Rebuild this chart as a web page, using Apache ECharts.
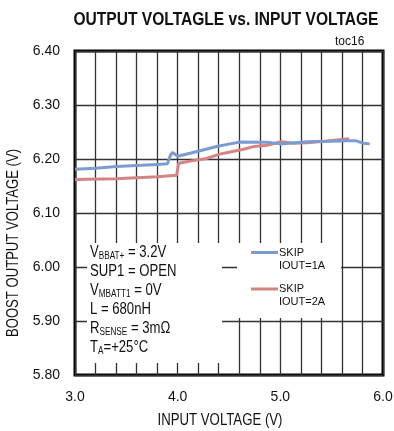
<!DOCTYPE html>
<html><head><meta charset="utf-8">
<script src="https://cdn.jsdelivr.net/npm/echarts@6/dist/echarts.min.js"></script>
<style>html,body{margin:0;padding:0;background:#fff}#c{width:394px;height:431px}</style>
</head><body><div id="c"></div>
<script>
// Data
const xTickLabels = ['3.0', '4.0', '5.0', '6.0'];
const yTickLabels = ['5.80', '5.90', '6.00', '6.10', '6.20', '6.30', '6.40'];
const seriesNames = ['SKIP\nIOUT=1A', 'SKIP\nIOUT=2A'];
const vin1A  = [3.0, 3.2, 3.4, 3.6, 3.8, 3.90, 3.93, 3.95, 4.0, 4.18, 4.38, 4.51, 4.61, 4.87, 5.0, 5.26, 5.5, 5.65, 5.73, 5.81, 5.87];
const vout1A = [6.181, 6.183, 6.186, 6.188, 6.190, 6.191, 6.207, 6.212, 6.205, 6.2135, 6.223, 6.228, 6.2315, 6.231, 6.228, 6.232, 6.233, 6.234, 6.234, 6.229, 6.228];
const vin2A  = [3.0, 3.4, 3.8, 3.99, 4.01, 4.15, 4.28, 4.41, 4.51, 4.64, 4.74, 4.87, 5.01, 5.13, 5.26, 5.45, 5.67];
const vout2A = [6.162, 6.1635, 6.167, 6.170, 6.192, 6.197, 6.201, 6.209, 6.213, 6.218, 6.223, 6.2254, 6.232, 6.229, 6.230, 6.2333, 6.2376];
const titleText = 'OUTPUT VOLTAGLE vs. INPUT VOLTAGE';
const xName = 'INPUT VOLTAGE (V)';
const yName = 'BOOST OUTPUT VOLTAGE (V)';

const REG = '"Liberation Sans", Arial, sans-serif';
const c1 = '#7b9bd2', c2 = '#d48484';
const NARROW = 0.82;

const ctx = document.createElement('canvas').getContext('2d');
function fitScale(text, font, target) { ctx.font = font; return target / ctx.measureText(text).width; }

const titleFont = 'bold 18px ' + REG;
const nameFont = '16px ' + REG;

const chart = echarts.init(document.getElementById('c'), null, {renderer: 'canvas'});
const gridCol = '#333';
chart.setOption({
  animation: false,
  backgroundColor: '#fff',
  grid: {left: 75, top: 51, width: 308, height: 324, show: true, borderColor: '#000', borderWidth: 3,
         backgroundColor: 'transparent', containLabel: false, outerBoundsMode: 'none'},
  xAxis: {
    type: 'value', min: 3, max: 6, interval: 1,
    axisLine: {show: false}, axisTick: {show: false},
    axisLabel: {margin: 15, fontFamily: REG, fontSize: 14, color: '#111',
      formatter: v => { const i = Math.round(v - 3); return xTickLabels[i] !== undefined ? xTickLabels[i] : ''; }},
    splitLine: {show: true, lineStyle: {color: gridCol, width: 1.3}},
    minorTick: {show: false, splitNumber: 5},
    minorSplitLine: {show: true, lineStyle: {color: gridCol, width: 1.3}}
  },
  yAxis: {
    type: 'value', min: 5.8, max: 6.4, interval: 0.1,
    axisLine: {show: false}, axisTick: {show: false},
    axisLabel: {margin: 15, fontFamily: REG, fontSize: 14, color: '#111',
      formatter: v => { const i = Math.round((v - 5.8) * 10); return yTickLabels[i] !== undefined ? yTickLabels[i] : ''; }},
    splitLine: {show: true, lineStyle: {color: gridCol, width: 1.3}}
  },
  series: [
    {name: seriesNames[0], type: 'line', data: vin1A.map((x, i) => [x, vout1A[i]]), symbol: 'none', lineStyle: {color: c1, width: 3}, z: 3},
    {name: seriesNames[1], type: 'line', data: vin2A.map((x, i) => [x, vout2A[i]]), symbol: 'none', lineStyle: {color: c2, width: 3}, z: 2}
  ],
  graphic: [
    {type: 'text', x: 226, y: 20, scaleX: fitScale(titleText, titleFont, 305), z: 60,
      style: {text: titleText, font: titleFont, fill: '#111', textAlign: 'center', textVerticalAlign: 'middle'}},
    {type: 'text', x: 220, y: 421, scaleX: fitScale(xName, nameFont, 125), z: 60,
      style: {text: xName, font: nameFont, fill: '#111', textAlign: 'center', textVerticalAlign: 'middle'}},
    {type: 'text', x: 14, y: 243, rotation: Math.PI / 2, scaleX: fitScale(yName, nameFont, 188), z: 60,
      style: {text: yName, font: nameFont, fill: '#111', textAlign: 'center', textVerticalAlign: 'middle'}},
    {type: 'rect', shape: {x: 87, y: 243, width: 135, height: 120}, style: {fill: '#fff'}, z: 50},
    {type: 'rect', shape: {x: 237, y: 243, width: 104, height: 75}, style: {fill: '#fff'}, z: 50},
    {type: 'text', x: 335, y: 36, z: 60, style: {text: 'toc16', font: '12px ' + REG, fill: '#111'}},
    {type: 'text', x: 90, y: 243, scaleX: NARROW, z: 60, style: {
      text: 'V{s|BBAT+} = 3.2V\nSUP1 = OPEN\nV{s|MBATT1} = 0V\nL = 680nH\nR{s|SENSE} = 3mΩ\nT{s|A}=+25°C',
      fontFamily: REG, fontSize: 16, lineHeight: 19, fill: '#111',
      rich: {s: {fontFamily: REG, fontSize: 10, lineHeight: 19, padding: [7, 0, 0, 0], fill: '#111'}}
    }},
    {type: 'line', shape: {x1: 251, y1: 252.5, x2: 278, y2: 252.5}, style: {stroke: c1, lineWidth: 3}, z: 60},
    {type: 'text', x: 279, y: 246, z: 60, style: {text: 'SKIP\nIOUT=1A', font: '11px ' + REG, lineHeight: 13, fill: '#111'}},
    {type: 'line', shape: {x1: 251, y1: 289, x2: 278, y2: 289}, style: {stroke: c2, lineWidth: 3}, z: 60},
    {type: 'text', x: 279, y: 282.5, z: 60, style: {text: 'SKIP\nIOUT=2A', font: '11px ' + REG, lineHeight: 13, fill: '#111'}}
  ]
});
</script></body></html>
